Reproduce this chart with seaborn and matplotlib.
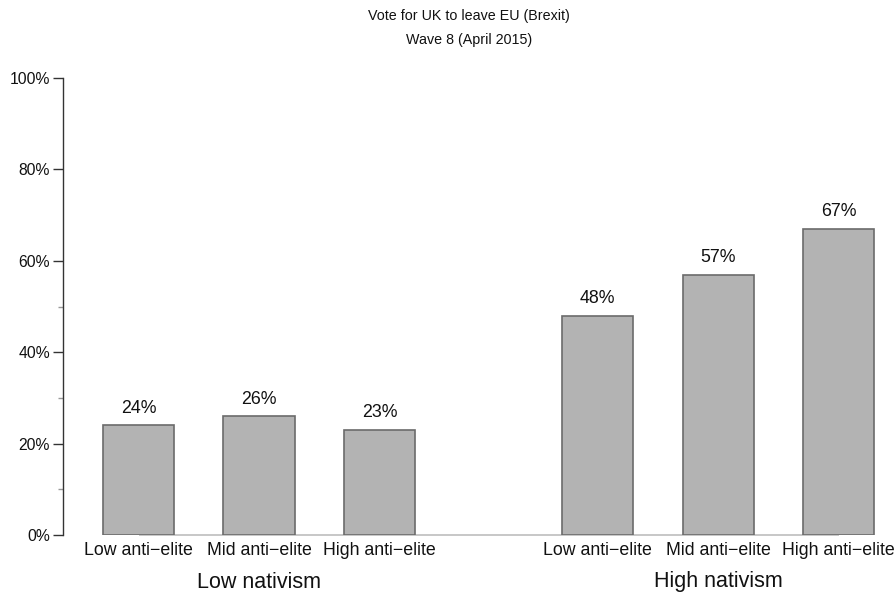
import matplotlib
matplotlib.use("Agg")
import matplotlib.pyplot as plt
import seaborn as sns
import numpy as np
import pandas as pd

# ---- data ----
groups = ["Low nativism", "High nativism"]
anti_elite = ["Low anti\u2212elite", "Mid anti\u2212elite", "High anti\u2212elite"]
low_nativism_values = [24, 26, 23]
high_nativism_values = [48, 57, 67]
title_lines = ["Vote for UK to leave EU (Brexit)", "Wave 8 (April 2015)"]
y_ticks = [0, 20, 40, 60, 80, 100]
y_minor = [10, 30, 50]

sns.set_theme(style="white")
plt.rcParams["font.family"] = ["Liberation Sans", "DejaVu Sans"]

values = low_nativism_values + high_nativism_values
labels = anti_elite + anti_elite
gap = 1.81
pos = [0, 1, 2, 2 + gap, 3 + gap, 4 + gap]
df = pd.DataFrame({"pos": pos, "value": values})

fig = plt.figure(figsize=(8.96, 5.95), dpi=100)
ax = fig.add_axes([63 / 896, 1 - 535 / 595, (896 - 63) / 896, (535 - 78) / 595])

sns.barplot(data=df, x="pos", y="value", native_scale=True, width=0.59,
            color="#B3B3B3", edgecolor="#6b6b6b", linewidth=1.2,
            saturation=1, ax=ax, zorder=3)

ax.set_xlim(-75.5 / 120.5, (896 - 138.5) / 120.5)
ax.set_ylim(0, 100)

# baseline (R axis line from first to last bar)
ax.hlines(0, pos[0], pos[-1], color="#bdbdbd", linewidth=1.2, zorder=2, clip_on=False)

# value labels
for p, v in zip(pos, values):
    ax.annotate(f"{v}%", (p, v), xytext=(0, 17), textcoords="offset pixels",
                ha="center", va="center", fontsize=12.8, color="#111111",
                annotation_clip=False)

# x tick labels
ax.set_xticks(pos)
ax.set_xticklabels(labels, fontsize=12.8, color="#111111")
ax.tick_params(axis="x", length=0, pad=5)
ax.set_xlabel("")

# group labels
for gi, g in enumerate(groups):
    cx = np.mean(pos[gi * 3: gi * 3 + 3])
    ax.annotate(g, (cx, 0), xytext=(0, -47), textcoords="offset pixels",
                ha="center", va="center", fontsize=15.5, color="#111111",
                annotation_clip=False)

# y axis
ax.set_yticks(y_ticks)
ax.set_yticklabels([f"{t}%" for t in y_ticks], fontsize=11.3, color="#111111")
ax.set_yticks(y_minor, minor=True)
ax.tick_params(axis="y", which="major", length=7, width=1, color="#333333", left=True, pad=2.5)
ax.tick_params(axis="y", which="minor", length=3.5, width=1, color="#999999", left=True)
ax.set_ylabel("")
for s in ["top", "right", "bottom"]:
    ax.spines[s].set_visible(False)
ax.spines["left"].set_color("#333333")
ax.spines["left"].set_linewidth(1)
ax.grid(False)

fig.text(469 / 896, 1 - 16 / 595, title_lines[0], ha="center", va="center", fontsize=10.3, color="#111111")
fig.text(469 / 896, 1 - 40 / 595, title_lines[1], ha="center", va="center", fontsize=10.3, color="#111111")

fig.savefig("out.png", dpi=100)
